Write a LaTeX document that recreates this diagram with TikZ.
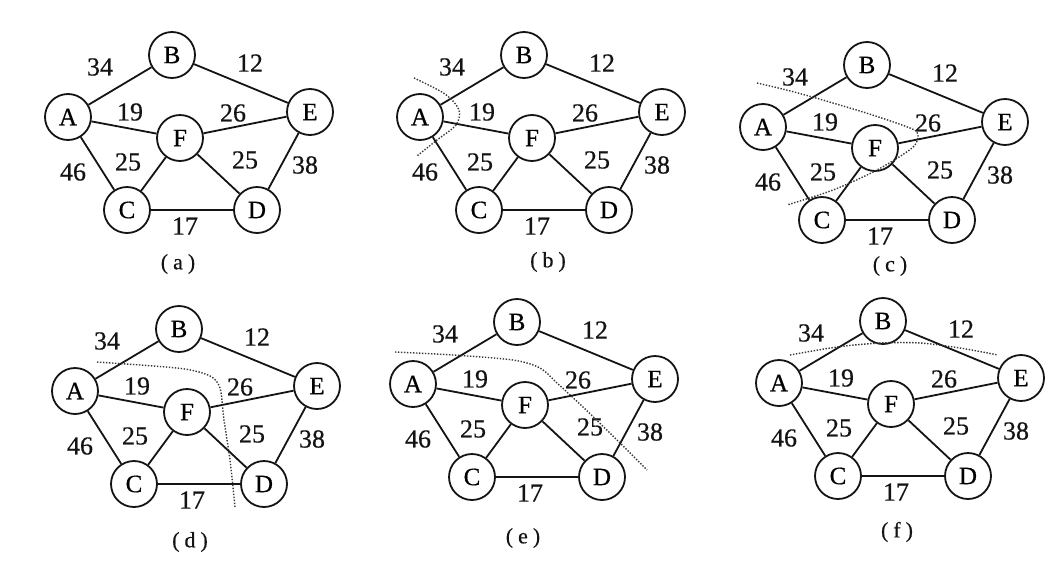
\documentclass[tikz,border=0pt]{standalone}
\usepackage{fontspec}
\setmainfont{Liberation Serif}
\newfontfamily\labelfont{Liberation Serif}[FakeBold=0.5]
\usepackage{tikz}
\usetikzlibrary{positioning, calc}
\definecolor{inkblack}{RGB}{20, 20, 20}

\tikzset{
  vertex/.style={draw=inkblack, circle, line width=1.8pt, minimum size=46pt, inner sep=0pt,
    font=\labelfont\fontsize{25}{27}\selectfont},
  edge/.style={draw=inkblack, line width=1.8pt},
  weight/.style={inner sep=0pt, text=inkblack, font=\labelfont\fontsize{26}{28}\selectfont},
  caption/.style={inner sep=0pt, text=inkblack, font=\labelfont\fontsize{22}{24}\selectfont},
  cutline/.style={draw=inkblack!85, line width=1.4pt, dash pattern=on 1.4pt off 1.6pt}
}

% caption text with wide brackets
\newcommand{\panelname}[1]{(\kern5pt#1\kern5pt)}

% one copy of the weighted graph, #1 = name prefix, (#2,#3) = shift in px
\newcommand{\netpanel}[3]{%
  \begin{scope}[shift={(#2,#3)}]
    % vertices
    \node[vertex] (#1A) at (68,117) {A};
    \node[vertex] (#1B) at (172,55) {B};
    \node[vertex] (#1C) at (127,210) {C};
    \node[vertex] (#1D) at (257,210) {D};
    \node[vertex] (#1E) at (310,112) {E};
    \node[vertex] (#1F) at (180,138) {F};
    % edges
    \draw[edge] (#1A) -- (#1B);
    \draw[edge] (#1B) -- (#1E);
    \draw[edge] (#1A) -- (#1F);
    \draw[edge] (#1F) -- (#1E);
    \draw[edge] (#1A) -- (#1C);
    \draw[edge] (#1C) -- (#1F);
    \draw[edge] (#1F) -- (#1D);
    \draw[edge] (#1E) -- (#1D);
    \draw[edge] (#1C) -- (#1D);
    % weights
    \node[weight] (#1wAB) at (100,67) {34};
    \node[weight] (#1wBE) at (250,63) {12};
    \node[weight] (#1wAF) at (130,112) {19};
    \node[weight] (#1wFE) at (233,113) {26};
    \node[weight] (#1wAC) at (73,172) {46};
    \node[weight] (#1wCF) at (128,162) {25};
    \node[weight] (#1wFD) at (245,160) {25};
    \node[weight] (#1wED) at (305,165) {38};
    \node[weight] (#1wCD) at (185,226) {17};
  \end{scope}}

\begin{document}
\begin{tikzpicture}[x=1pt, y=-1pt]
    \useasboundingbox (0,0) rectangle (1046,560);

    % Panel (a)
    \netpanel{a}{0}{0}
    \node[caption] (capa) at (178,264) {\panelname{a}};

    % Panel (b): cut round A
    \netpanel{b}{352}{0}
    \draw[cutline] plot[smooth] coordinates {(414,78) (445,94) (459,110) (456,125) (437,140) (417,156)};
    \node[caption] (capb) at (548,262) {\panelname{b}};

    % Panel (c): cut round A and F
    \netpanel{c}{695}{10}
    \draw[cutline] plot[smooth] coordinates {(757,83) (798,93) (863,112) (910,128) (918,135) (912,148) (877,170) (833,190) (787,205)};
    \node[caption] (capc) at (890,266) {\panelname{c}};

    % Panel (d): cut round A, F and C
    \netpanel{d}{7}{274}
    \draw[cutline] plot[smooth] coordinates {(97,362) (140,365) (185,369) (210,376) (220,388) (224,420) (230,460) (235,507)};
    \node[caption] (capd) at (190,542) {\panelname{d}};

    % Panel (e): cut round A, F, C and D
    \netpanel{e}{345}{267}
    \draw[cutline] plot[smooth] coordinates {(395,352) (453,355) (513,360) (540,368) (557,383) (583,407) (617,440) (647,470)};
    \node[caption] (cape) at (523,538) {\panelname{e}};

    % Panel (f): cut round B
    \netpanel{f}{711}{266}
    \draw[cutline] plot[smooth] coordinates {(790,355) (837,347) (880,343) (920,343) (960,348) (998,355)};
    \node[caption] (capf) at (897,532) {\panelname{f}};
\end{tikzpicture}
\end{document}
